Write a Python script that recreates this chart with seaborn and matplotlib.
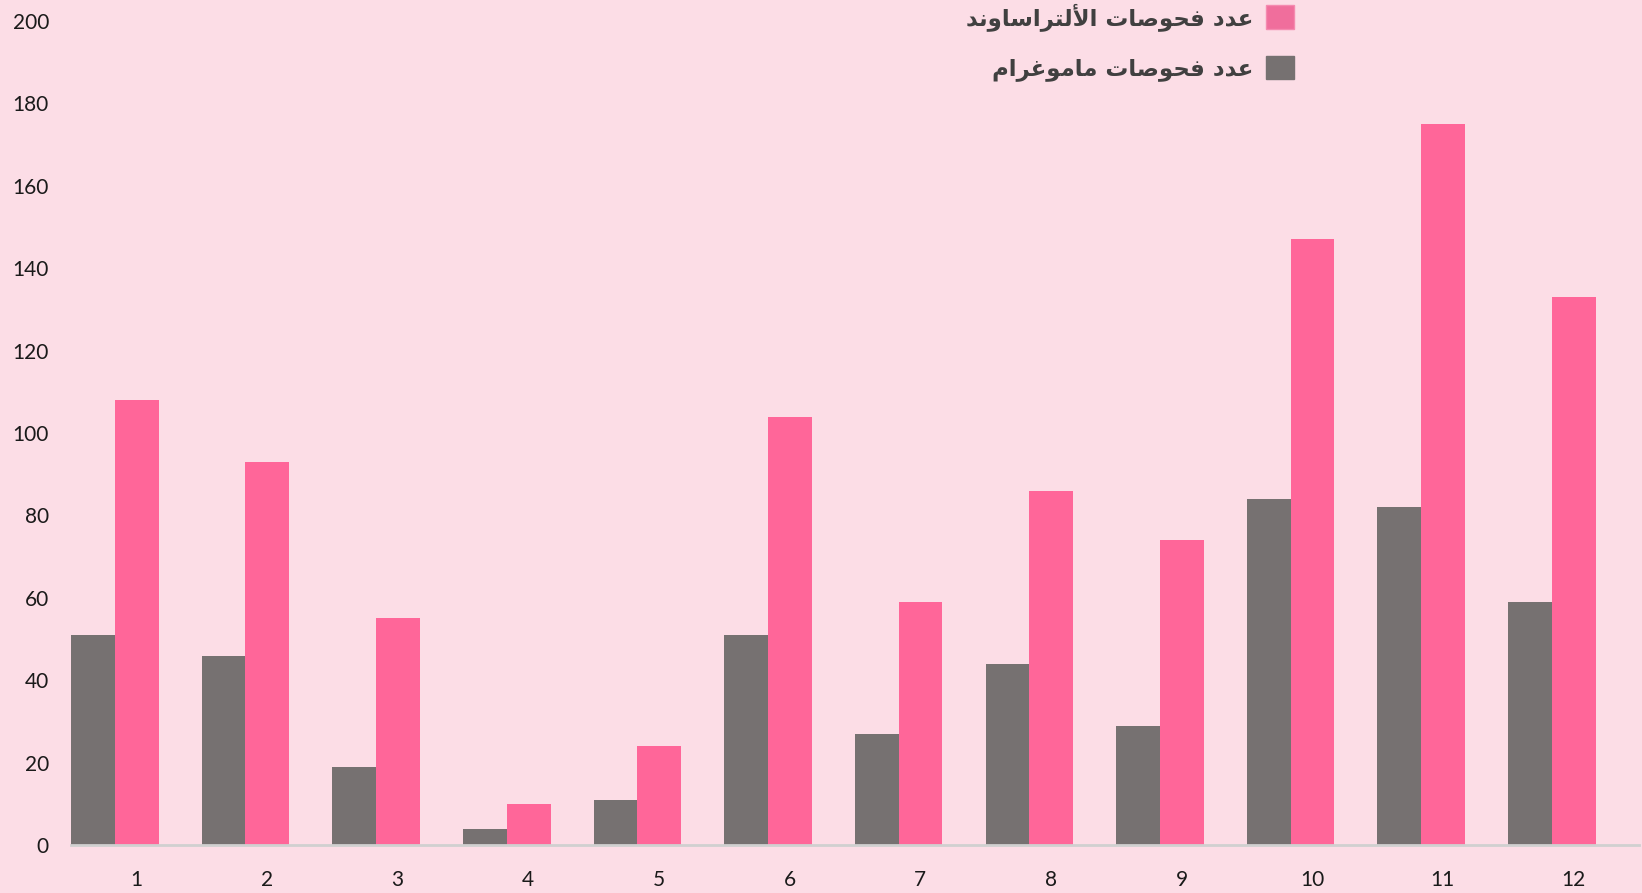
import numpy as np
import pandas as pd
import matplotlib
matplotlib.use("Agg")
import matplotlib.pyplot as plt
import seaborn as sns
from matplotlib.patches import Patch

months = [str(i) for i in range(1, 13)]
mammogram = [51, 46, 19, 4, 11, 51, 27, 44, 29, 84, 82, 59]
ultrasound = [108, 93, 55, 10, 24, 104, 59, 86, 74, 147, 175, 133]
label_mammo = "عدد فحوصات ماموغرام"
label_us = "عدد فحوصات الألتراساوند"
y_ticks = list(range(0, 201, 20))

bg = "#FCDDE6"
pink = "#FF6699"
gray = "#767171"


# matplotlib has no Arabic shaping, so pick presentation forms by hand
# forms: isolated, final, initial, medial (None -> letter does not join forward)
FORMS = {
    "ا": ("\uFE8D", "\uFE8E", None, None),
    "أ": ("\uFE83", "\uFE84", None, None),
    "د": ("\uFEA9", "\uFEAA", None, None),
    "ر": ("\uFEAD", "\uFEAE", None, None),
    "و": ("\uFEED", "\uFEEE", None, None),
    "ع": ("\uFEC9", "\uFECA", "\uFECB", "\uFECC"),
    "غ": ("\uFECD", "\uFECE", "\uFECF", "\uFED0"),
    "ف": ("\uFED1", "\uFED2", "\uFED3", "\uFED4"),
    "ح": ("\uFEA1", "\uFEA2", "\uFEA3", "\uFEA4"),
    "ص": ("\uFEB9", "\uFEBA", "\uFEBB", "\uFEBC"),
    "ت": ("\uFE95", "\uFE96", "\uFE97", "\uFE98"),
    "ل": ("\uFEDD", "\uFEDE", "\uFEDF", "\uFEE0"),
    "س": ("\uFEB1", "\uFEB2", "\uFEB3", "\uFEB4"),
    "ن": ("\uFEE5", "\uFEE6", "\uFEE7", "\uFEE8"),
    "م": ("\uFEE1", "\uFEE2", "\uFEE3", "\uFEE4"),
    "\u0001": ("\uFEFB", "\uFEFC", None, None),  # lam-alef
    "\u0002": ("\uFEF7", "\uFEF8", None, None),  # lam-alef hamza
}


def shape_arabic(text):
    text = text.replace("لا", "\u0001").replace("لأ", "\u0002")
    out = []
    for i, ch in enumerate(text):
        if ch not in FORMS:
            out.append(ch)
            continue
        prev = text[i - 1] if i > 0 else ""
        nxt = text[i + 1] if i + 1 < len(text) else ""
        join_prev = prev in FORMS and FORMS[prev][2] is not None
        join_next = FORMS[ch][2] is not None and nxt in FORMS
        iso, fin, ini, med = FORMS[ch]
        if join_prev and join_next:
            out.append(med)
        elif join_prev:
            out.append(fin)
        elif join_next:
            out.append(ini)
        else:
            out.append(iso)
    return "".join(out)[::-1]


df = pd.DataFrame({
    "month": months * 2,
    "count": mammogram + ultrasound,
    "type": ["mammo"] * 12 + ["us"] * 12,
})

sns.set_theme(style="white")
plt.rcParams["font.family"] = ["Lato", "DejaVu Sans"]

fig = plt.figure(figsize=(16.42, 8.93), dpi=100, facecolor=bg)
ax = fig.add_axes([0.0433, 0.0537, 0.9547, 0.9228])
ax.set_facecolor(bg)

sns.barplot(data=df, x="month", y="count", hue="type", order=months,
            hue_order=["mammo", "us"], palette=[gray, pink],
            width=0.67, saturation=1, linewidth=0, ax=ax, legend=False)

# bars sit at the left of each category, labels at the middle
ax.set_xlim(-0.335, 11.665)
ax.set_xticks(np.arange(12) + 0.165)
ax.set_xticklabels(months, fontsize=15, color="#1a1a1a")
ax.set_ylim(0, 200)
ax.set_yticks(y_ticks)
ax.set_yticklabels([str(v) for v in y_ticks], fontsize=15, color="#1a1a1a")
ax.tick_params(axis="both", length=0)
ax.tick_params(axis="x", pad=18)
ax.tick_params(axis="y", pad=16)
ax.set_xlabel("")
ax.set_ylabel("")
for side in ["top", "right", "left"]:
    ax.spines[side].set_visible(False)
ax.spines["bottom"].set_color("#D0D0D0")
ax.spines["bottom"].set_linewidth(2)

handles = [Patch(facecolor="#F06E9C", edgecolor="#F58AB0", linewidth=1),
           Patch(facecolor=gray, edgecolor=gray)]
fig.legend(handles, [shape_arabic(label_us), shape_arabic(label_mammo)],
           loc="upper right", bbox_to_anchor=(0.8005, 1.02), frameon=False,
           markerfirst=False, handlelength=1.2, handleheight=1.2,
           handletextpad=0.55, labelspacing=1.1,
           prop={"family": "DejaVu Sans", "weight": "bold", "size": 16.5},
           labelcolor="#404040")

fig.savefig("out.png", dpi=100, facecolor=bg)
